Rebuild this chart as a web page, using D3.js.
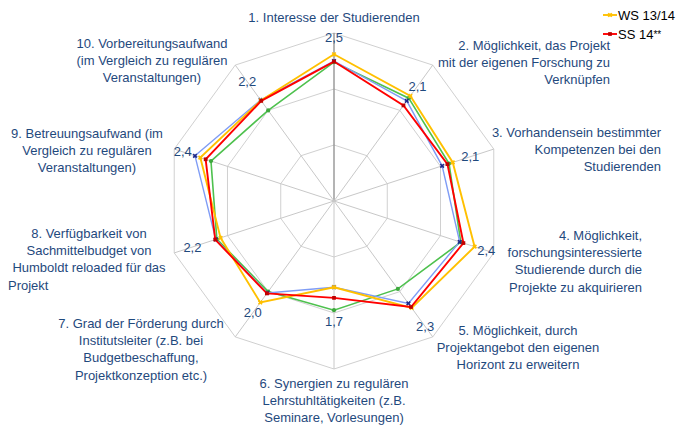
<!DOCTYPE html>
<html lang="de">
<head>
<meta charset="UTF-8">
<title>Netzdiagramm Humboldt reloaded</title>
<script src="https://d3js.org/d3.v7.min.js"></script>
<style>
  body { margin: 0; background: #fff; }
  text { font-family: "Liberation Sans", Arial, sans-serif; }
</style>
</head>
<body>
<script>
// Kategorien (eine Zeile pro Eintrag)
var kategorien = [
  ["1. Interesse der Studierenden"],
  ["2. Möglichkeit, das Projekt", "mit der eigenen Forschung zu", "Verknüpfen"],
  ["3. Vorhandensein bestimmter", "Kompetenzen bei den", "Studierenden"],
  ["4. Möglichkeit,", "forschungsinteressierte", "Studierende durch die", "Projekte zu akquirieren"],
  ["5. Möglichkeit, durch", "Projektangebot den eigenen", "Horizont zu erweitern"],
  ["6. Synergien zu regulären", "Lehrstuhltätigkeiten (z.B.", "Seminare, Vorlesungen)"],
  ["7. Grad der Förderung durch", "Institutsleiter (z.B. bei", "Budgetbeschaffung,", "Projektkonzeption etc.)"],
  ["8. Verfügbarkeit von", "Sachmittelbudget von", "Humboldt reloaded für das", "Projekt"],
  ["9. Betreuungsaufwand (im", "Vergleich zu regulären", "Veranstaltungen)"],
  ["10. Vorbereitungsaufwand", "(im Vergleich zu regulären", "Veranstaltungen)"]
];

// Werte der Reihen
var werteGruen  = [2.48, 2.27, 2.16, 2.38, 1.94, 1.95, 2.00, 2.20, 2.31, 2.00];
var werteBlau   = [2.50, 2.21, 2.03, 2.36, 2.26, 1.54, 2.03, 2.22, 2.61, 2.23];
var werteWS1314 = [2.62, 2.32, 2.23, 2.64, 2.36, 1.54, 2.24, 2.13, 2.51, 2.22];
var werteSS14   = [2.49, 2.11, 2.13, 2.43, 2.34, 1.73, 2.04, 2.23, 2.41, 2.21];

// Legende und Gitter
var legende = ["WS 13/14", "SS 14"];
var ringWerte = [1, 2, 3];

// Lage der Kategorie-Beschriftungen
var labelLage = [
  { x: 334, y: 22,  anchor: "middle" },
  { x: 610, y: 50,  anchor: "end" },
  { x: 661, y: 137, anchor: "end" },
  { x: 642, y: 240, anchor: "end" },
  { x: 518, y: 335, anchor: "middle" },
  { x: 334, y: 388, anchor: "middle" },
  { x: 141, y: 328, anchor: "middle" },
  { x: 89,  y: 238, anchor: "middle", letzteStart: 8 },
  { x: 87,  y: 138, anchor: "middle" },
  { x: 152, y: 48,  anchor: "middle" }
];

var breite = 678, hoehe = 427;
var cx = 334, cy = 201, radius = 168;
var zeilenAbstand = 17.2;
var textFarbe = "#1F497D";

var svg = d3.select("body").append("svg")
    .attr("width", breite)
    .attr("height", hoehe);

var r = d3.scaleLinear().domain([0, 3]).range([0, radius]);
var winkel = d3.scaleLinear().domain([0, kategorien.length]).range([0, 2 * Math.PI]);

var g = svg.append("g").attr("transform", "translate(" + cx + "," + cy + ")");

// Ringe
var ringLinie = d3.lineRadial()
    .angle(function (d, i) { return winkel(i); })
    .radius(function (d) { return r(d); })
    .curve(d3.curveLinearClosed);

g.selectAll(".ring")
  .data(ringWerte)
  .enter().append("path")
    .attr("d", function (v) { return ringLinie(kategorien.map(function () { return v; })); })
    .attr("fill", "none")
    .attr("stroke", "#D0D0D0")
    .attr("stroke-width", 1);

// Speichen
g.selectAll(".speiche")
  .data(kategorien)
  .enter().append("line")
    .attr("x1", 0).attr("y1", 0)
    .attr("x2", function (d, i) { return d3.pointRadial(winkel(i), r(3))[0]; })
    .attr("y2", function (d, i) { return d3.pointRadial(winkel(i), r(3))[1]; })
    .attr("stroke", function (d, i) { return i === 0 ? "#8C8C8C" : "#C8C8C8"; })
    .attr("stroke-width", function (d, i) { return i === 0 ? 1.3 : 1; });

// Reihen
var reihen = [
  { werte: werteGruen,  farbe: "#4EC14E", breite: 1.6, marke: "#3DA83D", form: d3.symbolCircle },
  { werte: werteBlau,   farbe: "#7F9CF5", breite: 1.4, marke: "#1F2A8A", form: d3.symbolCross },
  { werte: werteWS1314, farbe: "#FFC000", breite: 1.9, marke: "#FFC000", form: d3.symbolCross },
  { werte: werteSS14,   farbe: "#FF0000", breite: 1.9, marke: "#C00000", form: d3.symbolSquare }
];

reihen.forEach(function (s) {
  g.append("path")
    .attr("d", ringLinie(s.werte))
    .attr("fill", "none")
    .attr("stroke", s.farbe)
    .attr("stroke-width", s.breite)
    .attr("stroke-linejoin", "miter");

  g.selectAll(null)
    .data(s.werte)
    .enter().append("path")
      .attr("d", d3.symbol().type(s.form).size(14))
      .attr("transform", function (d, i) {
        var p = d3.pointRadial(winkel(i), r(d));
        var rot = s.form === d3.symbolCross ? " rotate(45)" : "";
        return "translate(" + p[0] + "," + p[1] + ")" + rot;
      })
      .attr("fill", s.marke);
});

// Datenbeschriftung SS 14
var fmt = d3.formatLocale({ decimal: ",", thousands: ".", grouping: [3], currency: ["", "€"] }).format(".1f");

g.selectAll(".wert")
  .data(werteSS14)
  .enter().append("text")
    .attr("x", function (d, i) { return d3.pointRadial(winkel(i), r(d) + 24)[0]; })
    .attr("y", function (d, i) { return d3.pointRadial(winkel(i), r(d) + 24)[1]; })
    .attr("text-anchor", "middle")
    .attr("dominant-baseline", "central")
    .attr("font-size", 13)
    .attr("fill", textFarbe)
    .text(function (d) { return fmt(d); });

// Kategorie-Beschriftungen
kategorien.forEach(function (zeilen, i) {
  var l = labelLage[i];
  var t = svg.append("text")
      .attr("font-size", 13)
      .attr("fill", textFarbe);
  zeilen.forEach(function (z, j) {
    var letzte = (j === zeilen.length - 1) && l.letzteStart !== undefined;
    t.append("tspan")
      .attr("x", letzte ? l.letzteStart : l.x)
      .attr("y", l.y + j * zeilenAbstand)
      .attr("text-anchor", letzte ? "start" : l.anchor)
      .text(z);
  });
});

// Legende
var legFarben = ["#FFC000", "#FF0000"];
var legMarke = [d3.symbolCross, d3.symbolSquare];
var leg = svg.append("g").attr("transform", "translate(603,0)");
legende.forEach(function (name, i) {
  var y = 15 + i * 19;
  leg.append("line")
    .attr("x1", 0).attr("x2", 14)
    .attr("y1", y).attr("y2", y)
    .attr("stroke", legFarben[i])
    .attr("stroke-width", 1.9);
  leg.append("path")
    .attr("d", d3.symbol().type(legMarke[i]).size(14))
    .attr("transform", "translate(7," + y + ")" + (i === 0 ? " rotate(45)" : ""))
    .attr("fill", i === 0 ? "#FFC000" : "#C00000");
  var t = leg.append("text")
    .attr("x", 15)
    .attr("y", y + 5)
    .attr("font-size", 13)
    .attr("fill", "#000")
    .text(name);
  if (i === 1) {
    t.append("tspan").attr("font-size", 10).attr("dy", -1).text("**");
  }
});
</script>
</body>
</html>
